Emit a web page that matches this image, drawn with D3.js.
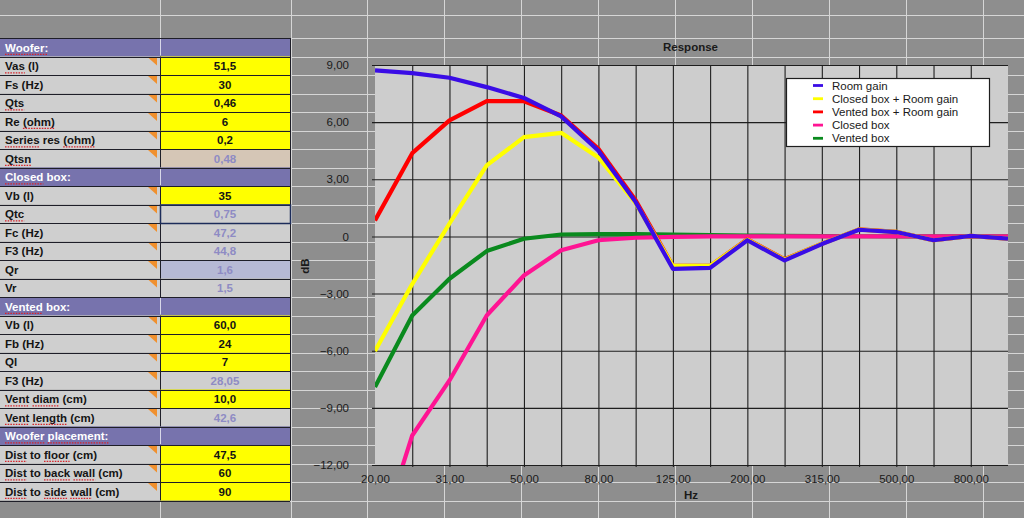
<!DOCTYPE html>
<html>
<head>
<meta charset="utf-8">
<script src="https://cdn.jsdelivr.net/npm/d3@7"></script>
<style>
  body { margin: 0; background: #8e8e8e; }
  svg { display: block; font-family: "Liberation Sans", Arial, sans-serif; }
</style>
</head>
<body>
<svg id="sheet" width="1024" height="518"></svg>
<script>
// ---- chart data ----
const freqs = [20, 25, 31, 40, 50, 63, 80, 100, 125, 160, 200, 250, 315, 400, 500, 630, 800, 1000];
const roomGain    = [8.72, 8.57, 8.33, 7.84, 7.27, 6.30, 4.50, 1.80, -1.70, -1.65, -0.20, -1.26, -0.40, 0.35, 0.23, -0.20, 0.03, -0.12];
const closedRoom  = [-6.02, -2.50, 0.68, 3.73, 5.21, 5.44, 4.15, 1.75, -1.55, -1.55, -0.17, -1.22, -0.38, 0.36, 0.24, -0.20, 0.03, -0.12];
const ventedRoom  = [0.84, 4.37, 6.09, 7.10, 7.10, 6.35, 4.60, 1.90, -1.55, -1.55, -0.15, -1.20, -0.38, 0.37, 0.24, -0.20, 0.03, -0.12];
const closedBox   = [-16.6, -10.45, -7.56, -4.15, -2.05, -0.73, -0.20, -0.07, -0.02, 0, 0, 0, 0, 0, 0, 0, 0, 0];
const ventedBox   = [-7.91, -4.15, -2.22, -0.77, -0.12, 0.10, 0.12, 0.12, 0.10, 0.07, 0.05, 0.03, 0.02, 0.01, 0, 0, 0, 0];
const seriesNames = ["Room gain", "Closed box + Room gain", "Vented box + Room gain", "Closed box", "Vented box"];
const yTicks = [-12, -9, -6, -3, 0, 3, 6, 9];
const xLabelFreqs = [20, 31, 50, 80, 125, 200, 315, 500, 800];

// ---- spreadsheet table ----
const rowLabels = ["Woofer:", "Vas (l)", "Fs (Hz)", "Qts", "Re (ohm)", "Series res (ohm)", "Qtsn",
  "Closed box:", "Vb (l)", "Qtc", "Fc (Hz)", "F3 (Hz)", "Qr", "Vr",
  "Vented box:", "Vb (l)", "Fb (Hz)", "Ql", "F3 (Hz)", "Vent diam (cm)", "Vent length (cm)",
  "Woofer placement:", "Dist to floor (cm)", "Dist to back wall (cm)", "Dist to side wall (cm)"];
const rowValues = ["", "51,5", "30", "0,46", "6", "0,2", "0,48",
  "", "35", "0,75", "47,2", "44,8", "1,6", "1,5",
  "", "60,0", "24", "7", "28,05", "10,0", "42,6",
  "", "47,5", "60", "90"];
const rowKinds = ["head", "in", "in", "in", "in", "in", "qtsn",
  "head", "in", "sel", "calc", "calc", "qr", "calc",
  "head", "in", "in", "in", "calc", "in", "calc",
  "head", "in", "in", "in"];
const flaggedWords = ["Woofer:", "Woofer", "Vas", "Qts", "(ohm)", "Series", "Qtsn", "Closed", "Qtc", "Vented",
  "Vent", "diam", "length", "placement:", "Dist", "floor", "back", "wall", "side"];

const W = 1024, H = 518;
const svg = d3.select("#sheet");

// sheet background + cell grid
svg.append("rect").attr("width", W).attr("height", H).attr("fill", "#8e8e8e");
const rowH = 18.5, tableTop = 38;
const gridRows = [15].concat(d3.range(0, 27).map(k => tableTop + k * rowH));
const gridCols = [160].concat(d3.range(0, 11).map(k => 290.5 + k * 76.9));
const grid = svg.append("g").attr("stroke", "#d6d6d6").attr("stroke-width", 1);
grid.selectAll("line.r").data(gridRows).join("line").attr("class", "r")
  .attr("x1", 0).attr("x2", W).attr("y1", d => Math.round(d) + 0.5).attr("y2", d => Math.round(d) + 0.5);
grid.selectAll("line.c").data(gridCols).join("line").attr("class", "c")
  .attr("x1", d => Math.round(d) + 0.5).attr("x2", d => Math.round(d) + 0.5).attr("y1", 0).attr("y2", H);

// table
const table = svg.append("g");
const labelW = 160, valueW = 130;
const cellFill = {head: "#7773ad", in: "#ffff00", qtsn: "#d5c6b6", sel: "#cfcfcf", calc: "#cfcfcf", qr: "#b6b9d5"};
rowLabels.forEach((lab, i) => {
  const kind = rowKinds[i];
  const y = tableTop + i * rowH;
  const g = table.append("g").attr("transform", `translate(0,${y})`);
  g.append("rect").attr("x", 0).attr("width", labelW).attr("height", rowH)
    .attr("fill", kind === "head" ? "#7773ad" : "#cfcfcf");
  g.append("rect").attr("x", labelW).attr("width", valueW).attr("height", rowH)
    .attr("fill", cellFill[kind]);
  if (kind === "head") {
    g.append("line").attr("x1", labelW + 0.5).attr("x2", labelW + 0.5).attr("y1", 1).attr("y2", rowH - 1)
      .attr("stroke", "#d8d8e8").attr("stroke-width", 1);
  } else {
    // comment indicator
    g.append("path").attr("d", `M${labelW - 12},1 L${labelW - 3},1 L${labelW - 3},9 Z`).attr("fill", "#f0902e");
  }
  const t = g.append("text").attr("x", 5).attr("y", 13.5)
    .attr("font-size", 11.5).attr("font-weight", "bold")
    .attr("fill", kind === "head" ? "#ffffff" : "#141414");
  lab.split(" ").forEach((w, j) => {
    t.append("tspan").attr("class", flaggedWords.includes(w) ? "flag" : null)
      .text((j > 0 ? " " : "") + w);
  });
  if (rowValues[i] !== "") {
    g.append("text").attr("x", labelW + valueW / 2).attr("y", 13.5).attr("text-anchor", "middle")
      .attr("font-size", 11.5).attr("font-weight", "bold")
      .attr("fill", kind === "in" ? "#141414" : "#8e8bc4")
      .text(rowValues[i]);
  }
});
// spell-check squiggles under flagged words
table.selectAll("tspan.flag").each(function () {
  const node = this;
  const txt = node.parentNode;
  const before = Array.from(txt.childNodes).slice(0, Array.from(txt.childNodes).indexOf(node))
    .map(n => n.textContent).join("");
  const lead = node.textContent.startsWith(" ") ? 1 : 0;
  const x0 = 5 + (before.length + lead > 0 ? txt.getSubStringLength(0, before.length + lead) : 0);
  const w = txt.getSubStringLength(before.length + lead, node.textContent.length - lead);
  d3.select(txt.parentNode).append("line")
    .attr("x1", x0).attr("x2", x0 + w).attr("y1", 16.3).attr("y2", 16.3)
    .attr("stroke", "#d8222a").attr("stroke-width", 1.3).attr("stroke-dasharray", "1.5,1.2");
});
// borders
const borders = table.append("g").attr("stroke", "#1e1e28").attr("stroke-width", 1);
d3.range(0, rowLabels.length + 1).forEach(i => {
  const y = Math.round(tableTop + i * rowH) + 0.5;
  borders.append("line").attr("x1", 0).attr("x2", labelW + valueW).attr("y1", y).attr("y2", y);
});
rowKinds.forEach((k, i) => {
  if (k === "head") return;
  const y = tableTop + i * rowH;
  borders.append("line").attr("x1", labelW + 0.5).attr("x2", labelW + 0.5).attr("y1", y).attr("y2", y + rowH);
});
borders.append("line").attr("x1", labelW + valueW + 0.5).attr("x2", labelW + valueW + 0.5)
  .attr("y1", tableTop).attr("y2", tableTop + rowLabels.length * rowH);
// selected cell (Qtc)
const selRow = rowKinds.indexOf("sel");
table.append("rect").attr("x", labelW + 0.5).attr("y", tableTop + selRow * rowH + 0.5)
  .attr("width", valueW).attr("height", rowH).attr("fill", "none")
  .attr("stroke", "#1c2c5a").attr("stroke-width", 1.5);

// ---- chart ----
const plot = {left: 375, right: 1008, top: 65, bottom: 465};
const x = d3.scalePoint().domain(freqs).range([plot.left, plot.right]);
const y = d3.scaleLinear().domain([-12, 9]).range([plot.bottom, plot.top]);
const loc = d3.formatLocale({decimal: ",", thousands: ".", grouping: [3], currency: ["", ""]});
const fmt2 = loc.format(".2f");

const chart = svg.append("g");
chart.append("rect").attr("x", plot.left).attr("y", plot.top)
  .attr("width", plot.right - plot.left).attr("height", plot.bottom - plot.top).attr("fill", "#cdcdcd");

svg.append("defs").append("clipPath").attr("id", "plot-clip").append("rect")
  .attr("x", plot.left).attr("y", plot.top)
  .attr("width", plot.right - plot.left).attr("height", plot.bottom - plot.top);

// y axis with gridlines
const yAxis = d3.axisLeft(y).tickValues(yTicks).tickSize(-(plot.right - plot.left + 3)).tickPadding(23)
  .tickFormat(d => d === 0 ? "0" : fmt2(d));
chart.append("g").attr("transform", `translate(${plot.left - 3},0)`).call(yAxis)
  .call(g => g.select(".domain").remove())
  .call(g => g.selectAll(".tick line").attr("stroke", "#1e1e1e").attr("stroke-width", 1.1))
  .call(g => g.selectAll(".tick text").attr("fill", "#1a1a1a").attr("font-size", 11.5)
    .attr("font-family", "Liberation Sans, Arial, sans-serif"));

// x axis with gridlines (inner categories)
const xAxis = d3.axisBottom(x).tickSize(-(plot.bottom - plot.top)).tickSizeOuter(0)
  .tickFormat(d => xLabelFreqs.includes(d) ? fmt2(d) : "").tickPadding(8);
chart.append("g").attr("transform", `translate(0,${plot.bottom + 2})`).call(xAxis)
  .call(g => g.select(".domain").remove())
  .call(g => g.selectAll(".tick line").attr("stroke", "#1e1e1e").attr("stroke-width", 1.1)
    .attr("y1", 0).attr("y2", -(plot.bottom - plot.top) - 2)
    .attr("display", (d, i, n) => (i === 0 || i === n.length - 1) ? "none" : null))
  .call(g => g.selectAll(".tick text").attr("fill", "#1a1a1a").attr("font-size", 11.5)
    .attr("font-family", "Liberation Sans, Arial, sans-serif"));

// lines
const color = d3.scaleOrdinal(seriesNames, ["#3a0ce6", "#ffff00", "#ff0000", "#ff1493", "#0a8a1e"]);
const seriesValues = [roomGain, closedRoom, ventedRoom, closedBox, ventedBox];
const series = seriesNames.map((name, i) => ({name, values: seriesValues[i]}));
const line = d3.line().x((d, i) => x(freqs[i])).y(d => y(d));
chart.append("g").attr("clip-path", "url(#plot-clip)")
  .selectAll("path").data(series.slice().reverse()).join("path")
  .attr("fill", "none").attr("stroke", d => color(d.name)).attr("stroke-width", 4.2)
  .attr("stroke-linejoin", "round").attr("d", d => line(d.values));

// titles
chart.append("text").attr("x", 690.5).attr("y", 50.5).attr("text-anchor", "middle")
  .attr("font-size", 11.5).attr("font-weight", "bold").attr("fill", "#1a1a1a").text("Response");
chart.append("text").attr("x", 691).attr("y", 499).attr("text-anchor", "middle")
  .attr("font-size", 11.5).attr("font-weight", "bold").attr("fill", "#1a1a1a").text("Hz");
chart.append("text").attr("transform", "translate(309,266) rotate(-90)").attr("text-anchor", "middle")
  .attr("font-size", 11.5).attr("font-weight", "bold").attr("fill", "#1a1a1a").text("dB");

// legend
const legend = chart.append("g").attr("transform", "translate(786,78)");
legend.append("rect").attr("x", 0.5).attr("y", 0.5).attr("width", 203).attr("height", 68)
  .attr("fill", "#ffffff").attr("stroke", "#1e1e1e").attr("stroke-width", 1.2);
const item = legend.selectAll("g.item").data(seriesNames).join("g").attr("class", "item")
  .attr("transform", (d, i) => `translate(0,${7.5 + i * 13.2})`);
item.append("line").attr("x1", 27).attr("x2", 37).attr("stroke", d => color(d)).attr("stroke-width", 2.8);
item.append("text").attr("x", 46).attr("y", 4).attr("font-size", 11.5).attr("fill", "#1a1a1a").text(d => d);
</script>
</body>
</html>
